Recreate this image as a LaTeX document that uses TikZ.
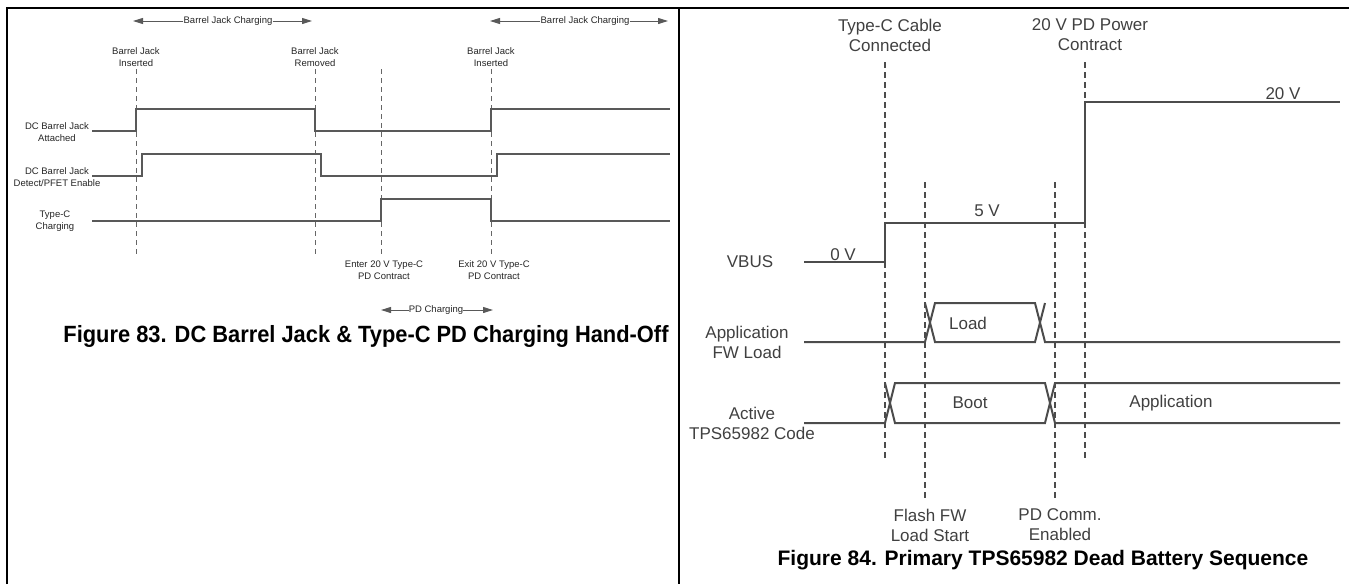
\documentclass[tikz,border=0pt]{standalone}
\usepackage{fontspec}
\setmainfont{Liberation Sans}
\usetikzlibrary{arrows.meta}

\begin{document}
\begin{tikzpicture}[x=1pt, y=-1pt,
  frame/.style={draw=black, line width=1.6pt},
  waveL/.style={draw=black!65, line width=1.3pt},
  waveR/.style={draw=black!70, line width=2pt},
  cutL/.style={draw=black!60, line width=0.8pt, dash pattern=on 5pt off 4pt},
  cutR/.style={draw=black!70, line width=1.3pt, dash pattern=on 6pt off 4pt},
  sml/.style={font=\fontsize{9.5}{11.5}\selectfont, align=center, text=black!85, inner sep=0pt},
  big/.style={font=\fontsize{17}{20}\selectfont, align=center, text=black!75, inner sep=0pt},
  figcap/.style={font=\fontsize{21}{24}\selectfont\bfseries, inner sep=0pt},
  span/.style={-{Triangle[length=10pt,width=6pt]}, draw=black!65, line width=1pt}
]
\useasboundingbox (0,0) rectangle (1349,584);
\draw[frame] (7,584) -- (7,8) -- (1349,8);
\draw[frame] (679,8) -- (679,584);

% Figure 83
\node[sml] (bjc1) at (228,21) {Barrel Jack Charging};
\node[sml] (bjc2) at (585,21) {Barrel Jack Charging};
\node[sml] (pdc)  at (436,310) {PD Charging};
\coordinate (bjc1L) at (133,21);
\coordinate (bjc1R) at (312,21);
\coordinate (bjc2L) at (490,21);
\coordinate (bjc2R) at (668,21);
\coordinate (pdcL) at (381,310);
\coordinate (pdcR) at (493,310);
\draw[span] (bjc1.west) -- (bjc1L);
\draw[span] (bjc1.east) -- (bjc1R);
\draw[span] (bjc2.west) -- (bjc2L);
\draw[span] (bjc2.east) -- (bjc2R);
\draw[span] (pdc.west) -- (pdcL);
\draw[span] (pdc.east) -- (pdcR);

\node[sml] (ins1) at (136,57) {Barrel Jack\\Inserted};
\node[sml] (rem)  at (315,57) {Barrel Jack\\Removed};
\node[sml] (ins2) at (491,57) {Barrel Jack\\Inserted};
\node[sml] (ent)  at (384,270) {Enter 20 V Type-C\\PD Contract};
\node[sml] (ext)  at (494,270) {Exit 20 V Type-C\\PD Contract};

\draw[cutL] (136,69) -- (136,255);
\draw[cutL] (315,69) -- (315,255);
\draw[cutL] (381,69) -- (381,255);
\draw[cutL] (491,69) -- (491,255);

\node[sml] (att) at (57,132) {DC Barrel Jack\\Attached};
\node[sml] (det) at (57,177) {DC Barrel Jack\\Detect/PFET Enable};
\node[sml] (tcc) at (55,221) {Type-C\\Charging};
\draw[waveL] (92,131) -- (136,131) -- (136,109) -- (315,109) -- (315,131)
  -- (491,131) -- (491,109) -- (670,109);
\draw[waveL] (92,176) -- (142,176) -- (142,154) -- (321,154) -- (321,176)
  -- (497,176) -- (497,154) -- (670,154);
\draw[waveL] (92,221) -- (381,221) -- (381,199) -- (491,199) -- (491,221)
  -- (670,221);

\node[figcap, font=\fontsize{23.5}{26}\selectfont\bfseries] (cap83) at (366,336)
  {\scalebox{0.93}[1]{Figure 83. DC Barrel Jack \& Type-C PD Charging Hand-Off}};

% Figure 84
\node[big] (tcon) at (890,35) {Type-C Cable\\Connected};
\node[big] (pdpc) at (1090,35) {20 V PD Power\\Contract};
\node[big] (fls)  at (930,525) {Flash FW\\Load Start};
\node[big] (pdce) at (1060,525) {PD Comm.\\Enabled};

\draw[cutR] (885,62) -- (885,458);
\draw[cutR] (925,182) -- (925,498);
\draw[cutR] (1055,182) -- (1055,498);
\draw[cutR] (1085,62) -- (1085,458);

\node[big] (vbus) at (750,262) {VBUS};
\node[big] (afw)  at (747,342) {Application\\FW Load};
\node[big] (act)  at (752,423) {Active\\TPS65982 Code};

\draw[waveR] (804,262) -- (885,262) -- (885,223) -- (1085,223) -- (1085,102) -- (1340,102);
\node[big, anchor=base] (v0)  at (843,260) {0 V};
\node[big, anchor=base] (v5)  at (987,216) {5 V};
\node[big, anchor=base] (v20) at (1283,99) {20 V};

\draw[waveR] (804,342) -- (925,342) -- (935,303) -- (1035,303) -- (1045,342) -- (1340,342);
\draw[waveR] (925,303) -- (935,342) -- (1035,342) -- (1045,303);
\node[big] (load) at (968,323) {Load};

\draw[waveR] (804,423) -- (885,423) -- (895,383) -- (1045,383) -- (1055,423) -- (1340,423);
\draw[waveR] (885,383) -- (895,423) -- (1045,423) -- (1055,383) -- (1340,383);
\node[big] (boot) at (970,403) {Boot};
\node[big] (appl) at (1171,403) {Application};

\node[figcap] (cap84) at (1043,560) {Figure 84. Primary TPS65982 Dead Battery Sequence};
\end{tikzpicture}
\end{document}
